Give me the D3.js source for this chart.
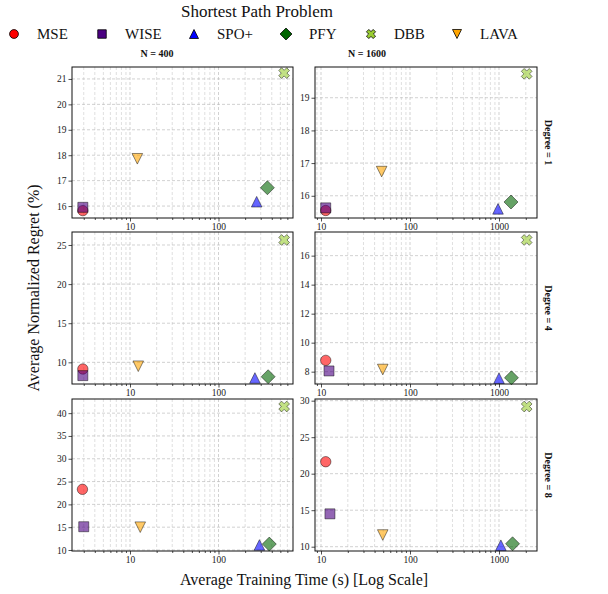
<!DOCTYPE html>
<html>
<head>
<meta charset="utf-8">
<script src="https://cdn.jsdelivr.net/npm/d3@7"></script>
<style>
  body { margin: 0; background: #fff; }
  svg { font-family: "Liberation Serif", "Times New Roman", serif; }
</style>
</head>
<body>
<div id="chart"></div>
<script>
// ---------- Data ----------
const methods = ["MSE", "WISE", "SPO+", "PFY", "DBB", "LAVA"];
const sampleSizes = [400, 1600];
const degrees = [1, 4, 8];

// training time (s) per method, per panel
const time_n400_d1 = [2.93, 2.93, 270, 357, 552, 12.1];
const time_n1600_d1 = [11.3, 11.3, 975, 1364, 2047, 48];
const time_n400_d4 = [2.93, 2.93, 258, 364, 552, 12.4];
const time_n1600_d4 = [11.3, 12.3, 1000, 1380, 2047, 49.4];
const time_n400_d8 = [2.9, 3.0, 290, 375, 552, 13.05];
const time_n1600_d8 = [11.3, 12.6, 1050, 1420, 2047, 49.4];

// average normalized regret (%) per method, per panel
const regret_n400_d1 = [15.82, 15.95, 16.17, 16.72, 21.23, 17.86];
const regret_n1600_d1 = [15.55, 15.63, 15.6, 15.81, 19.73, 16.74];
const regret_n400_d4 = [9.15, 8.3, 8.0, 8.16, 25.64, 9.5];
const regret_n1600_d4 = [8.78, 8.05, 7.55, 7.58, 17.08, 8.15];
const regret_n400_d8 = [23.3, 15.1, 11.1, 11.3, 41.45, 15.0];
const regret_n1600_d8 = [21.64, 14.5, 10.2, 10.4, 29.2, 11.6];

// axis limits and ticks
const xLim_n400 = [2.21, 695];
const xLim_n1600 = [8.56, 2673];
const xTicks_n400 = [10, 100];
const xTicks_n1600 = [10, 100, 1000];
const yLim = [[15.53, 21.47], [15.32, 19.94], [7.23, 26.66], [7.15, 17.63], [9.78, 43.1], [9.41, 30.23]];
const yTicks = [
  [16, 17, 18, 19, 20, 21], [16, 17, 18, 19],
  [10, 15, 20, 25], [8, 10, 12, 14, 16],
  [10, 15, 20, 25, 30, 35, 40], [10, 15, 20, 25, 30]
];

// ---------- Styles ----------
const colors = ["red", "indigo", "blue", "darkgreen", "yellowgreen", "orange"];
const shapes = ["circle", "square", "triUp", "diamond", "x", "triDown"];

const W = 608, H = 594;
const colX = [[72, 293], [315, 537]];
const rowY = [[67, 218], [232, 384], [399, 551]];

const svg = d3.select("#chart").append("svg").attr("width", W).attr("height", H);

function markerPath(kind, k) {
  const f = (pts) => "M" + pts.map((p) => p.join(",")).join("L") + "Z";
  if (kind === "circle") {
    const r = 5.2 * k;
    return `M${r},0A${r},${r} 0 1,1 ${-r},0A${r},${r} 0 1,1 ${r},0Z`;
  }
  if (kind === "square") { const h = 5 * k; return f([[-h, -h], [h, -h], [h, h], [-h, h]]); }
  if (kind === "triUp") { const h = 5.3 * k; return f([[0, -h], [h, h], [-h, h]]); }
  if (kind === "triDown") { const h = 5.3 * k; return f([[0, h], [h, -h], [-h, -h]]); }
  if (kind === "diamond") { const h = 7 * k; return f([[0, -h], [h, 0], [0, h], [-h, 0]]); }
  // filled X: a plus rotated 45 degrees
  const L = 5.6 * k, w = 2.0 * k, s = Math.SQRT1_2;
  const plus = [[w, L], [-w, L], [-w, w], [-L, w], [-L, -w], [-w, -w], [-w, -L], [w, -L], [w, -w], [L, -w], [L, w], [w, w]];
  return f(plus.map(([x, y]) => [(x - y) * s, (x + y) * s]));
}

// ---------- Title & legend ----------
svg.append("text").attr("x", 257).attr("y", 17).attr("text-anchor", "middle")
  .attr("font-size", 17).attr("fill", "#111").text("Shortest Path Problem");

const legendMarkX = [14, 102, 194, 286, 371, 457];
const legend = svg.append("g");
methods.forEach((m, i) => {
  legend.append("path").attr("transform", `translate(${legendMarkX[i]},34)`)
    .attr("d", markerPath(shapes[i], 0.85)).attr("fill", colors[i])
    .attr("stroke", "#000").attr("stroke-width", 0.8);
  legend.append("text").attr("x", legendMarkX[i] + 23).attr("y", 39)
    .attr("font-size", 15).attr("fill", "#111").text(m);
});

// ---------- Panels ----------
const timeData = [time_n400_d1, time_n1600_d1, time_n400_d4, time_n1600_d4, time_n400_d8, time_n1600_d8];
const regretData = [regret_n400_d1, regret_n1600_d1, regret_n400_d4, regret_n1600_d4, regret_n400_d8, regret_n1600_d8];

degrees.forEach((deg, r) => {
  sampleSizes.forEach((n, c) => {
    const idx = r * 2 + c;
    const [x0, x1] = colX[c], [y0, y1] = rowY[r];
    const x = d3.scaleLog().domain(c === 0 ? xLim_n400 : xLim_n1600).range([x0, x1]);
    const y = d3.scaleLinear().domain(yLim[idx]).range([y1, y0]);
    const g = svg.append("g");

    const [lo, hi] = x.domain();
    const minor = [];
    for (let d = 1; d <= 1000; d *= 10)
      for (let m = 2; m <= 9; m++) if (d * m > lo && d * m < hi) minor.push(d * m);
    const major = c === 0 ? xTicks_n400 : xTicks_n1600;

    // grid
    const grid = g.append("g").attr("stroke", "#bdbdbd").attr("stroke-width", 0.7)
      .attr("stroke-dasharray", "3,2");
    grid.selectAll(".mn").data(minor).enter().append("line")
      .attr("x1", (d) => x(d)).attr("x2", (d) => x(d)).attr("y1", y0).attr("y2", y1)
      .attr("stroke-opacity", 0.7);
    grid.selectAll(".mj").data(major).enter().append("line")
      .attr("x1", (d) => x(d)).attr("x2", (d) => x(d)).attr("y1", y0).attr("y2", y1);
    grid.selectAll(".hy").data(yTicks[idx]).enter().append("line")
      .attr("x1", x0).attr("x2", x1).attr("y1", (d) => y(d)).attr("y2", (d) => y(d));

    // axes
    const ax = g.append("g").attr("transform", `translate(0,${y1})`)
      .call(d3.axisBottom(x).tickValues(major).tickFormat(d3.format("d")).tickSize(3.5).tickPadding(2));
    g.append("g").attr("transform", `translate(0,${y1})`)
      .call(d3.axisBottom(x).tickValues(minor).tickFormat("").tickSize(2))
      .select(".domain").remove();
    const ay = g.append("g").attr("transform", `translate(${x0},0)`)
      .call(d3.axisLeft(y).tickValues(yTicks[idx]).tickFormat(d3.format("d")).tickSize(3.5).tickPadding(2));
    [ax, ay].forEach((a) => {
      a.select(".domain").remove();
      a.selectAll("text").attr("font-size", 9.5).attr("fill", "#222")
        .attr("font-family", "Liberation Serif");
    });
    g.selectAll(".tick line").attr("stroke", "#222").attr("stroke-width", 0.8);

    // frame
    g.append("rect").attr("x", x0).attr("y", y0).attr("width", x1 - x0).attr("height", y1 - y0)
      .attr("fill", "none").attr("stroke", "#111").attr("stroke-width", 1);

    // points
    g.append("g").selectAll("path").data(methods).enter().append("path")
      .attr("transform", (d, i) => `translate(${x(timeData[idx][i])},${y(regretData[idx][i])})`)
      .attr("d", (d, i) => markerPath(shapes[i], 1))
      .attr("fill", (d, i) => colors[i]).attr("fill-opacity", 0.6)
      .attr("stroke", "#000").attr("stroke-opacity", 0.45).attr("stroke-width", 1);

    if (r === 0) {
      svg.append("text").attr("x", c === 0 ? 157 : 367).attr("y", 57).attr("text-anchor", "middle")
        .attr("font-size", 10).attr("font-weight", "bold").attr("fill", "#111").text(`N = ${n}`);
    }
    if (c === 1) {
      svg.append("text").attr("transform", `translate(545,${(y0 + y1) / 2}) rotate(90)`)
        .attr("text-anchor", "middle").attr("font-size", 10).attr("font-weight", "bold")
        .attr("fill", "#111").text(`Degree = ${deg}`);
    }
  });
});

// ---------- Axis labels ----------
svg.append("text").attr("transform", "translate(39,288) rotate(-90)").attr("text-anchor", "middle")
  .attr("font-size", 16).attr("fill", "#111").text("Average Normalized Regret (%)");
svg.append("text").attr("x", 304).attr("y", 585).attr("text-anchor", "middle")
  .attr("font-size", 16).attr("fill", "#111").text("Average Training Time (s) [Log Scale]");
</script>
</body>
</html>
